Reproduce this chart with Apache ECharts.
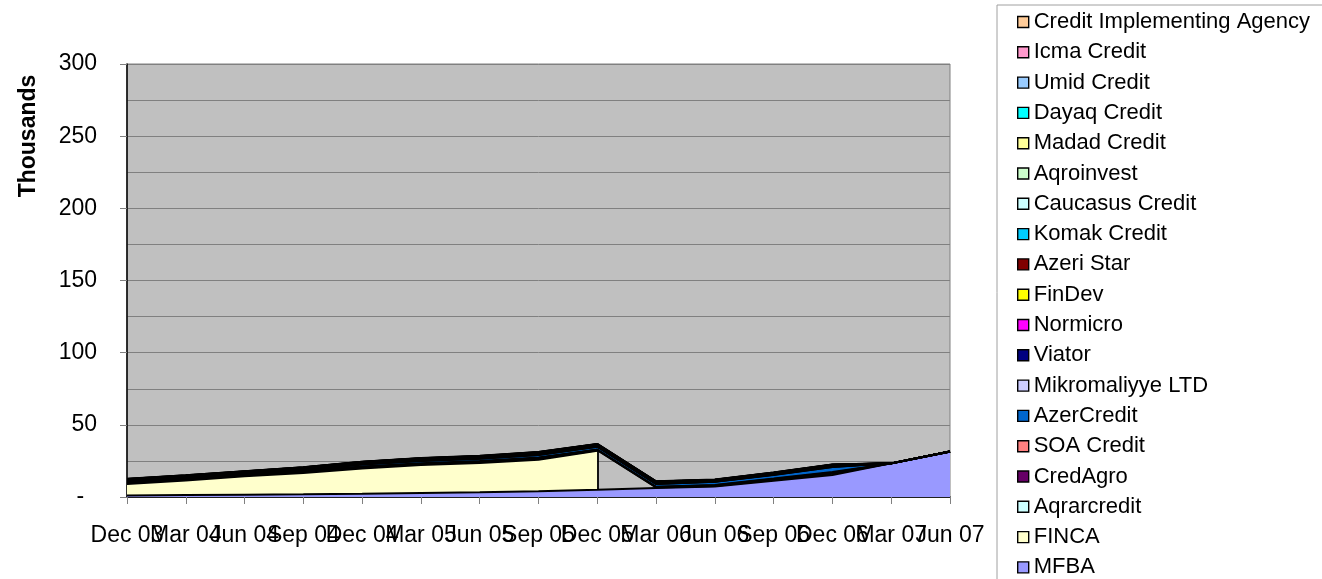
<!DOCTYPE html>
<html>
<head>
<meta charset="utf-8">
<script src="https://cdn.jsdelivr.net/npm/echarts@6/dist/echarts.min.js"></script>
<style>
html,body{margin:0;padding:0;background:#fff;}
#chart{width:1322px;height:579px;}
</style>
</head>
<body>
<div id="chart"></div>
<script>
// Categories (quarter ends)
const categories = ['Dec 03','Mar 04','Jun 04','Sep 04','Dec 04','Mar 05','Jun 05','Sep 05','Dec 05','Mar 06','Jun 06','Sep 06','Dec 06','Mar 07','Jun 07'];
const yTicks = [0, 50, 100, 150, 200, 250, 300];

// Series values (thousands), bottom of stack first
const MFBA              = [1.0, 1.3, 1.6, 1.9, 2.3, 2.8, 3.3, 4.0, 5.0, 6.3, 7.2, 11.3, 15.3, 23.3, 31.5];
const FINCA             = [8.0, 10.2, 12.7, 14.7, 17.5, 19.4, 20.3, 21.8, 27.1, null, null, null, null, null, null];
const Aqrarcredit       = [0.6, 0.6, 0.6, 0.7, 0.6, 0.5, 0.6, 0.7, 0.3, 0.3, 0.5, 0.6, 0.8, 0, 0];
const CredAgro          = [0.4, 0.4, 0.4, 0.5, 0.4, 0.4, 0.4, 0.5, 0.3, 0.3, 0.4, 0.5, 0.7, 0, 0];
const SOACredit         = [0.3, 0.3, 0.3, 0.3, 0.3, 0.3, 0.3, 0.3, 0.2, 0.2, 0.3, 0.4, 0.5, 0, 0];
const AzerCredit        = [0, 0, 0, 0, 1.1, 1.3, 1.3, 1.5, 1.6, 1.6, 1.9, 2.3, 3.2, 0, 0];
const Mikromaliyye      = [0.3, 0.3, 0.3, 0.4, 0.3, 0.3, 0.3, 0.3, 0.3, 0.3, 0.2, 0.2, 0.3, 0, 0];
const Viator            = [0.4, 0.4, 0.4, 0.5, 0.4, 0.4, 0.4, 0.4, 0.4, 0.3, 0.3, 0.3, 0.3, 0, 0];
const Normicro          = [0.2, 0.2, 0.2, 0.2, 0.2, 0.2, 0.2, 0.2, 0.2, 0.2, 0.1, 0.2, 0.2, 0, 0];
const FinDev            = [0.2, 0.2, 0.2, 0.3, 0.2, 0.2, 0.2, 0.2, 0.2, 0.2, 0.2, 0.2, 0.2, 0, 0];
const AzeriStar         = [0.2, 0.2, 0.2, 0.2, 0.2, 0.2, 0.2, 0.2, 0.2, 0.2, 0.1, 0.1, 0.2, 0, 0];
const KomakCredit       = [0.2, 0.2, 0.2, 0.2, 0.2, 0.2, 0.2, 0.3, 0.2, 0.2, 0.2, 0.2, 0.2, 0, 0];
const CaucasusCredit    = [0.1, 0.1, 0.1, 0.1, 0.1, 0.1, 0.1, 0.1, 0.1, 0.1, 0.1, 0.1, 0.1, 0, 0];
const Aqroinvest        = [0.1, 0.1, 0.1, 0.1, 0.1, 0.1, 0.1, 0.1, 0.1, 0.1, 0.1, 0.1, 0.1, 0, 0];
const MadadCredit       = [0.2, 0.2, 0.2, 0.2, 0.2, 0.2, 0.2, 0.2, 0.2, 0.2, 0.1, 0.1, 0.1, 0, 0];
const DayaqCredit       = [0.1, 0.1, 0.1, 0.1, 0.1, 0.1, 0.1, 0.1, 0.1, 0.1, 0.1, 0.1, 0.1, 0, 0];
const UmidCredit        = [0.1, 0.1, 0.1, 0.1, 0.1, 0.1, 0.1, 0.1, 0.1, 0.1, 0.1, 0.1, 0.1, 0, 0];
const IcmaCredit        = [0.1, 0.1, 0.1, 0.1, 0.1, 0.1, 0.1, 0.1, 0.1, 0.1, 0.1, 0.1, 0.1, 0, 0];
const CreditImplAgency  = [0.1, 0.1, 0.1, 0.1, 0.1, 0.1, 0.1, 0.1, 0.1, 0.1, 0.1, 0.1, 0.1, 0, 0];

const seriesDefs = [
  ['MFBA', MFBA, '#9999FF'],
  ['FINCA', FINCA, '#FFFFCC'],
  ['Aqrarcredit', Aqrarcredit, '#CCFFFF'],
  ['CredAgro', CredAgro, '#660066'],
  ['SOA Credit', SOACredit, '#FF8080'],
  ['AzerCredit', AzerCredit, '#0066CC'],
  ['Mikromaliyye LTD', Mikromaliyye, '#CCCCFF'],
  ['Viator', Viator, '#000080'],
  ['Normicro', Normicro, '#FF00FF'],
  ['FinDev', FinDev, '#FFFF00'],
  ['Azeri Star', AzeriStar, '#800000'],
  ['Komak Credit', KomakCredit, '#00CCFF'],
  ['Caucasus Credit', CaucasusCredit, '#CCFFFF'],
  ['Aqroinvest', Aqroinvest, '#CCFFCC'],
  ['Madad Credit', MadadCredit, '#FFFF99'],
  ['Dayaq Credit', DayaqCredit, '#00FFFF'],
  ['Umid Credit', UmidCredit, '#99CCFF'],
  ['Icma Credit', IcmaCredit, '#FF99CC'],
  ['Credit Implementing Agency', CreditImplAgency, '#FFCC99']
];

// index where FINCA ends (last non-null)
let fincaEnd = -1;
FINCA.forEach((v, i) => { if (v != null) fincaEnd = i; });

const series = seriesDefs.map(([name, data, color]) => {
  const s = {
    name: name,
    type: 'line',
    stack: 'total',
    data: data,
    symbol: 'none',
    smooth: false,
    itemStyle: { color: color },
    lineStyle: { color: '#000', width: 2 },
    areaStyle: { color: color, opacity: 1 },
    emphasis: { disabled: true },
    z: 2
  };
  if (name === 'AzerCredit') {
    s.lineStyle = { color: '#000', width: 1.2 };
  }
  if (name === 'FINCA') {
    s.markLine = {
      symbol: 'none',
      silent: true,
      label: { show: false },
      lineStyle: { color: '#000', width: 1.8, type: 'solid' },
      data: [[
        { coord: [fincaEnd, MFBA[fincaEnd]] },
        { coord: [fincaEnd, MFBA[fincaEnd] + FINCA[fincaEnd]] }
      ]]
    };
  }
  return s;
});

const chart = echarts.init(document.getElementById('chart'), null, { renderer: 'canvas' });
const font = '"Liberation Sans", Arial, sans-serif';
chart.setOption({
  animation: false,
  textStyle: { fontFamily: font },
  grid: {
    left: 127, right: 372, top: 64, bottom: 82,
    show: true, backgroundColor: '#C0C0C0', borderColor: '#808080', borderWidth: 1
  },
  legend: {
    orient: 'vertical',
    left: 997, top: 5,
    height: 640,
    padding: [6, 20, 10, 20],
    borderColor: '#A0A0A0', borderWidth: 1,
    itemWidth: 11, itemHeight: 11, itemGap: 8.3,
    icon: 'rect',
    itemStyle: { borderColor: '#000', borderWidth: 1.4 },
    textStyle: { fontSize: 22, color: '#000', fontFamily: font, lineHeight: 22, padding: [0,0,0,0] },
    data: seriesDefs.map(d => d[0]).reverse()
  },
  graphic: [{
    type: 'text',
    x: 29, y: 136,
    rotation: Math.PI / 2,
    style: {
      text: 'Thousands', fill: '#000',
      font: 'bold 23px "Liberation Sans", Arial, sans-serif',
      align: 'center', verticalAlign: 'middle'
    }
  }],
  xAxis: {
    type: 'category',
    data: categories,
    boundaryGap: false,
    axisLine: { lineStyle: { color: '#000', width: 1.5 } },
    axisTick: { show: true, alignWithLabel: true, interval: 0, length: 7, lineStyle: { color: '#808080' } },
    axisLabel: { interval: 0, hideOverlap: false, fontSize: 23, color: '#000', margin: 27, fontFamily: font },
    splitLine: { show: false }
  },
  yAxis: {
    type: 'value',
    min: yTicks[0], max: yTicks[yTicks.length - 1], interval: 50,
    axisLine: { show: true, lineStyle: { color: '#000', width: 1.5 } },
    axisTick: { show: true, length: 7, lineStyle: { color: '#808080' } },
    axisLabel: {
      fontSize: 23, color: '#000', margin: 30, fontFamily: font,
      formatter: v => v === 0 ? '-  ' : String(v)
    },
    splitLine: { show: true, lineStyle: { color: '#808080', width: 1 } },
    minorTick: { show: false, splitNumber: 2 },
    minorSplitLine: { show: true, lineStyle: { color: '#808080', width: 1 } }
  },
  series: series
});
</script>
</body>
</html>
